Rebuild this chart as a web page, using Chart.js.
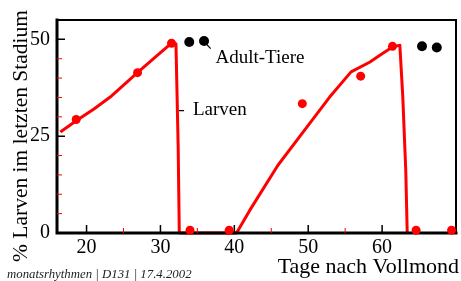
<!DOCTYPE html>
<html>
<head>
<meta charset="utf-8">
<script src="https://cdn.jsdelivr.net/npm/chart.js@4/dist/chart.umd.min.js"></script>
<style>
    html, body { margin: 0; padding: 0; background: #fff; }
    canvas { display: block; }
</style>
</head>
<body>
<canvas id="chart" width="461" height="281"></canvas>
<script>
// Larven curve (fitted line)
const curveDays = [16.45, 18.7, 21.0, 23.2, 27.0, 29.3, 31.5, 32.1, 32.4, 32.55, 40.3, 42.1, 45.9, 50.2, 52.9, 55.8, 58.3, 60.0, 61.4, 62.4, 62.8, 63.2, 63.4];
const curveLarven = [26.1, 29.1, 32.0, 35.1, 41.6, 45.4, 49.0, 48.9, 22.2, 0, 0, 5.9, 17.5, 28.3, 35.1, 41.6, 44.1, 46.3, 48.0, 48.5, 35.1, 16.2, 0];

// measured larvae (red dots)
const larvenDays = [18.6, 26.9, 31.5, 34.0, 39.3, 49.2, 57.1, 61.4, 64.6, 69.4];
const larvenValues = [29.3, 41.4, 49.0, 0.7, 0.7, 33.4, 40.5, 48.2, 0.7, 0.7];

// adult animals (black dots)
const adultDays = [33.9, 35.9, 65.4, 67.4];
const adultValues = [49.3, 49.6, 48.2, 47.9];

const xTicks = [20, 30, 40, 50, 60];
const xMinorTicks = [25, 35, 45, 55, 65];
const yTicks = [0, 25, 50];
const yMinorTicks = [5, 10, 15, 20, 30, 35, 40, 45];

const SERIF = "'Liberation Serif', 'DejaVu Serif', serif";

const toPoints = (xs, ys) => xs.map((x, i) => ({ x, y: ys[i] }));

// frame + inward ticks, drawn right after the curve so the dots sit on top
const framePlugin = {
    id: 'frame',
    afterDatasetDraw(chart, args) {
        if (args.index !== 0) return;
        const { ctx, chartArea: a, scales } = chart;
        ctx.save();
        ctx.strokeStyle = '#000';
        ctx.lineCap = 'square';

        ctx.lineWidth = 2;
        ctx.beginPath();
        ctx.moveTo(a.left, a.top);
        ctx.lineTo(a.right, a.top);
        ctx.lineTo(a.right, a.bottom);
        ctx.stroke();

        ctx.lineWidth = 3;
        ctx.beginPath();
        ctx.moveTo(a.left, a.top);
        ctx.lineTo(a.left, a.bottom);
        ctx.lineTo(a.right, a.bottom);
        ctx.stroke();

        ctx.lineCap = 'butt';
        ctx.lineWidth = 1.5;
        ctx.beginPath();
        xTicks.forEach(v => {
            const px = scales.x.getPixelForValue(v);
            ctx.moveTo(px, a.bottom);
            ctx.lineTo(px, a.bottom - 8);
        });
        yTicks.forEach(v => {
            const py = scales.y.getPixelForValue(v);
            ctx.moveTo(a.left, py);
            ctx.lineTo(a.left + 8, py);
        });
        ctx.stroke();

        ctx.strokeStyle = '#ff0000';
        ctx.lineWidth = 1;
        ctx.beginPath();
        xMinorTicks.forEach(v => {
            const px = scales.x.getPixelForValue(v);
            ctx.moveTo(px, a.bottom);
            ctx.lineTo(px, a.bottom - 5);
        });
        yMinorTicks.forEach(v => {
            const py = scales.y.getPixelForValue(v);
            ctx.moveTo(a.left, py);
            ctx.lineTo(a.left + 5, py);
        });
        ctx.stroke();
        ctx.restore();
    }
};

// axis titles, annotations and footer
const textPlugin = {
    id: 'texts',
    afterDraw(chart) {
        const { ctx, scales } = chart;
        const X = v => scales.x.getPixelForValue(v);
        const Y = v => scales.y.getPixelForValue(v);
        ctx.save();
        ctx.fillStyle = '#000';
        ctx.strokeStyle = '#000';

        // annotations
        ctx.font = `19px ${SERIF}`;
        ctx.textAlign = 'left';
        ctx.textBaseline = 'alphabetic';
        ctx.fillText('Adult-Tiere', X(37.45), Y(43.9));
        ctx.fillText('Larven', X(34.4), Y(30.5));
        ctx.lineWidth = 1.2;
        ctx.beginPath();
        ctx.moveTo(X(36.1), Y(49.0));
        ctx.lineTo(X(36.8), Y(47.6));
        ctx.moveTo(X(32.5), Y(31.6));
        ctx.lineTo(X(33.2), Y(31.6));
        ctx.stroke();

        // x title
        ctx.font = `22px ${SERIF}`;
        ctx.textAlign = 'right';
        ctx.fillText('Tage nach Vollmond', 459, 273);

        // y title
        ctx.font = `21.5px ${SERIF}`;
        ctx.save();
        ctx.translate(27, 136);
        ctx.rotate(-Math.PI / 2);
        ctx.textAlign = 'center';
        ctx.fillText('% Larven im letzten Stadium', 0, 0);
        ctx.restore();

        // footer
        ctx.font = `italic 12.8px ${SERIF}`;
        ctx.textAlign = 'left';
        ctx.fillStyle = '#222';
        ctx.fillText('monatsrhythmen | D131 | 17.4.2002', 7, 278);
        ctx.restore();
    }
};

const ctx = document.getElementById('chart').getContext('2d');
new Chart(ctx, {
    type: 'scatter',
    data: {
        datasets: [
            {
                label: 'Kurve',
                data: toPoints(curveDays, curveLarven),
                showLine: true,
                borderColor: '#ff0000',
                borderWidth: 3,
                borderJoinStyle: 'round',
                tension: 0,
                pointRadius: 0,
                clip: false,
                order: 3
            },
            {
                label: 'Larven',
                data: toPoints(larvenDays, larvenValues),
                backgroundColor: '#ff0000',
                borderWidth: 0,
                pointRadius: 4.5,
                clip: false,
                order: 2
            },
            {
                label: 'Adult-Tiere',
                data: toPoints(adultDays, adultValues),
                backgroundColor: '#000',
                borderWidth: 0,
                pointRadius: 5,
                clip: false,
                order: 1
            }
        ]
    },
    options: {
        responsive: false,
        animation: false,
        devicePixelRatio: 1,
        layout: { padding: { left: 0, right: 4, top: 20, bottom: 0 } },
        plugins: {
            legend: { display: false },
            tooltip: { enabled: false }
        },
        scales: {
            x: {
                type: 'linear',
                min: 16,
                max: 70,
                afterBuildTicks: s => { s.ticks = xTicks.map(value => ({ value })); },
                afterFit: s => { s.height = 48; },
                grid: { display: false, drawTicks: false },
                border: { display: false },
                ticks: {
                    color: '#000',
                    padding: 3,
                    maxRotation: 0,
                    font: { family: SERIF, size: 20 }
                }
            },
            y: {
                type: 'linear',
                min: 0,
                max: 55,
                afterBuildTicks: s => { s.ticks = yTicks.map(value => ({ value })); },
                afterFit: s => { s.width = 57; },
                grid: { display: false, drawTicks: false },
                border: { display: false },
                ticks: {
                    color: '#000',
                    padding: 7,
                    font: { family: SERIF, size: 20 }
                }
            }
        }
    },
    plugins: [framePlugin, textPlugin]
});
</script>
</body>
</html>
